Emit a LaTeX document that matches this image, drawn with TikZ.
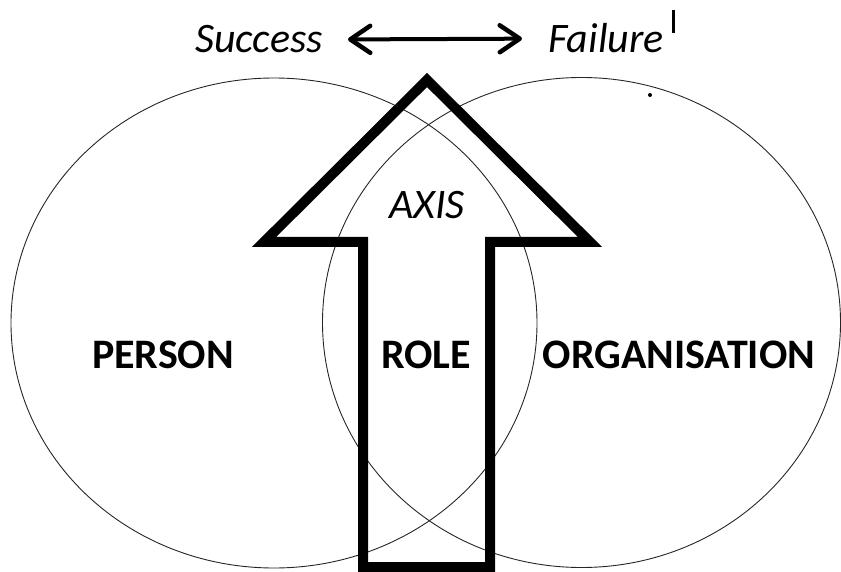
\documentclass[tikz,border=0pt]{standalone}
\usepackage{fontspec}
\setmainfont{Carlito}
\usetikzlibrary{shapes.geometric,arrows.meta}
\begin{document}
\begin{tikzpicture}[x=1pt,y=-1pt,
  ring/.style={draw=black!85,line width=0.9pt,ellipse,inner sep=0pt},
  bigarrow/.style={draw=black,line width=10pt,line join=miter},
  label/.style={font=\fontsize{42}{50}\selectfont,inner sep=0pt},
  boldlabel/.style={label,font=\fontsize{42}{50}\selectfont\bfseries},
  itlabel/.style={label,font=\fontsize{42}{50}\selectfont\itshape},
  barb/.tip={Straight Barb[length=20pt,width=27pt,line width=4.5pt,round]},
  dbl/.style={line width=4pt,{barb}-{barb}}
]
\useasboundingbox (0,0) rectangle (841,572);

% the two overlapping circles
\node[ring,minimum width=526pt,minimum height=490pt] (person) at (274,323) {};
\node[ring,minimum width=518pt,minimum height=490pt] (org) at (581.5,322.5) {};

% the upward axis arrow
\coordinate (tip) at (427,80);
\coordinate (hl) at (264,242);
\coordinate (hr) at (590,242);
\coordinate (sl) at (363,242);
\coordinate (sr) at (490,242);
\coordinate (bl) at (363,567);
\coordinate (br) at (490,567);
\draw[bigarrow] (tip) -- (hr) -- (sr) -- (br) -- (bl) -- (sl) -- (hl) -- cycle;

% labels
\node[boldlabel] (personlbl) at (163,355) {PERSON};
\node[boldlabel] (rolelbl) at (426,355) {ROLE};
\node[boldlabel] (orglbl) at (679,355) {ORGANISATION};
\node[itlabel] (axislbl) at (427,205) {AXIS};

% success / failure scale
\node[itlabel,anchor=base east] (success) at (323,53) {Success};
\node[itlabel,anchor=base west] (failure) at (548,53) {Failure};
\draw[dbl,shorten <=25pt,shorten >=26pt] (success.east) -- (failure.west);

% small marks
\coordinate (barTop) at (673.5,10);
\coordinate (barBot) at (673.5,33);
\draw[line width=2.5pt] (barTop) -- (barBot);
\fill (650,95) circle (2pt);
\end{tikzpicture}
\end{document}
